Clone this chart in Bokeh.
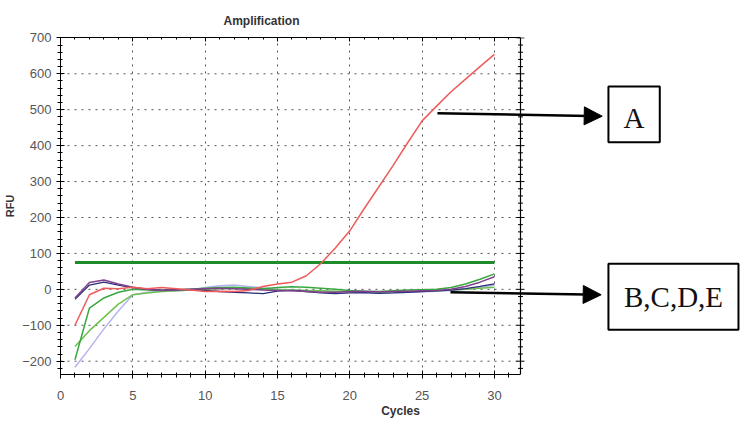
from bokeh.plotting import figure
from bokeh.models import (Label, Arrow, NormalHead, PolyAnnotation, LinearAxis, Span,
                          SingleIntervalTicker, Range1d, CustomJSTickFormatter)
from bokeh.embed import file_html
from bokeh.resources import INLINE

# ---- data -------------------------------------------------------------
cycles = list(range(1, 31))
curve_a = [-100, -15, 3, 2, 6, 2, 5, 2, -2, -6, -5, -6, -3, 8, 15, 20, 38, 72,
           115, 163, 225, 285, 345, 408, 469, 510, 550, 585, 620, 654]
curve_purple = [-24, 19, 26, 15, 6, 0, -3, -2, 0, 2, 3, 2, 0, -2, -3, -4, -6, -8,
                -8, -6, -5, -7, -6, -5, -4, -3, 0, 8, 20, 35]
curve_green = [-196, -52, -24, -8, 0, -2, -3, -2, 0, 3, 5, 6, 4, 2, 5, 7, 6, 3,
               0, -3, -5, -6, -4, -2, -1, 0, 5, 15, 28, 43]
curve_lightgreen = [-159, -115, -78, -41, -15, -10, -6, -4, -2, 0, 2, 3, 2, 0, -1,
                    -2, -3, -4, -5, -6, -7, -8, -7, -6, -5, -4, -2, 0, 3, 6]
curve_lavender = [-217, -165, -110, -60, -15, -8, -5, -4, -2, 5, 10, 12, 8, 4, 0,
                  -2, -4, -5, -6, -8, -9, -10, -9, -8, -7, -5, -3, 0, 5, 12]
curve_navy = [-28, 12, 20, 12, 5, 0, -2, -1, 0, -3, -6, -8, -10, -12, -5, -3, -6,
              -10, -12, -10, -9, -11, -10, -8, -6, -4, -2, 2, 8, 15]
threshold_x = [1, 30]
threshold_y = [75, 75]

x_ticks_interval = 5
y_ticks_interval = 100
y_major_ticks = list(range(-200, 701, 100))
y_minor_ticks = [v for v in range(-220, 701, 20) if v % 100 != 0]
y_grid_ticks = list(range(-200, 601, 100))

# chart frame extent in data units (the figure frame extends further right
# so that the annotation boxes and arrows are visible)
X_END = 31.8
Y_START, Y_END = -237, 701
PX_PER_X = 14.465

# ---- figure ------------------------------------------------------------
W, H = 740, 422
LEFT, TOP, BOTTOM = 60, 37, 48
p = figure(width=W, height=H,
           x_range=Range1d(0, (W - LEFT) / PX_PER_X), y_range=Range1d(Y_START, Y_END),
           output_backend="svg", toolbar_location=None,
           min_border_left=LEFT, min_border_right=0, min_border_top=TOP,
           min_border_bottom=BOTTOM, background_fill_color="white",
           border_fill_color="white")
p.outline_line_color = None
p.title.text = "Amplification"
p.title.align = "left"
p.title.offset = 163
p.title.standoff = 19
p.title.text_font = "Liberation Sans"
p.title.text_font_size = "12px"
p.title.text_font_style = "bold"
p.title.text_color = "#333333"

# axes
for ax in (p.xaxis[0], p.yaxis[0]):
    ax.axis_line_color = "black"
    ax.major_tick_line_color = "black"
    ax.minor_tick_line_color = "black"
    ax.major_tick_in = 4
    ax.major_tick_out = 4
    ax.minor_tick_in = 2
    ax.minor_tick_out = 3
    ax.major_label_text_font = "Liberation Sans"
    ax.major_label_text_font_size = "13px"
    ax.major_label_text_color = "#555555"
    ax.axis_label_text_font = "Liberation Sans"
    ax.axis_label_text_font_style = "bold"
    ax.axis_label_text_color = "#333333"

p.xaxis.ticker = SingleIntervalTicker(interval=x_ticks_interval, num_minor_ticks=5)
p.yaxis.ticker = SingleIntervalTicker(interval=y_ticks_interval, num_minor_ticks=5)
p.xaxis.bounds = (0, X_END)
p.xaxis.axis_label = "Cycles"
p.yaxis.axis_label = "RFU"
p.xaxis.axis_label_text_font_size = "12px"
p.yaxis.axis_label_text_font_size = "11px"
p.xaxis.major_label_standoff = 12
p.xaxis.axis_label_standoff = 1
p.yaxis.major_label_standoff = 5
p.yaxis.axis_label_standoff = 3

blank = CustomJSTickFormatter(code="return ''")
top = LinearAxis(ticker=SingleIntervalTicker(interval=x_ticks_interval, num_minor_ticks=5),
                 formatter=blank, bounds=(0, X_END), major_tick_in=4, major_tick_out=0,
                 minor_tick_in=2, minor_tick_out=0, major_label_standoff=0,
                 major_label_text_font_size="2px", axis_line_color="black")
p.add_layout(top, "above")

# grid
p.xgrid.ticker = p.xaxis[0].ticker
p.xgrid.grid_line_color = "#555555"
p.xgrid.grid_line_dash = "2 5"
p.ygrid.visible = False
p.segment(x0=0, x1=X_END, y0=y_grid_ticks, y1=y_grid_ticks,
          line_color="#555555", line_dash="2 5", line_width=1)

# right border of the chart with its ticks
p.add_layout(Span(location=X_END, dimension="height", line_color="black", line_width=1.2))
p.dash(x=[X_END] * len(y_major_ticks), y=y_major_ticks, size=8, line_color="black")
p.dash(x=[X_END] * len(y_minor_ticks), y=y_minor_ticks, size=5, line_color="black")

# curves
p.line(threshold_x, threshold_y, line_color="#1e8c2a", line_width=3)
p.line(cycles, curve_lavender, line_color="#b4b4f0", line_width=1.5)
p.line(cycles, curve_lightgreen, line_color="#6cc24c", line_width=1.5)
p.line(cycles, curve_green, line_color="#38a840", line_width=1.5)
p.line(cycles, curve_navy, line_color="#2c2c78", line_width=1.3)
p.line(cycles, curve_purple, line_color="#80408e", line_width=1.5)
p.line(cycles, curve_a, line_color="#ef5a5a", line_width=1.5)

# annotation boxes and arrows
p.add_layout(Arrow(end=NormalHead(size=18, fill_color="black", line_color="black"),
                   x_start=26.06, y_start=490.3, x_end=37.45, y_end=482.0,
                   line_color="black", line_width=2.5))
p.add_layout(Arrow(end=NormalHead(size=18, fill_color="black", line_color="black"),
                   x_start=26.96, y_start=-7.9, x_end=37.38, y_end=-15.1,
                   line_color="black", line_width=2.5))
p.add_layout(PolyAnnotation(xs=[37.88, 41.43, 41.43, 37.88], ys=[564.6, 564.6, 409.6, 409.6],
                            fill_color=None, fill_alpha=0, line_color="black",
                            line_alpha=1, line_width=2))
p.add_layout(PolyAnnotation(xs=[37.88, 46.87, 46.87, 37.88], ys=[71.2, 71.2, -112.5, -112.5],
                            fill_color=None, fill_alpha=0, line_color="black",
                            line_alpha=1, line_width=2))
p.add_layout(Label(x=39.65, y=478.3, text="A", text_font="Liberation Serif",
                   text_font_size="29px", text_color="#111111",
                   text_align="center", text_baseline="middle"))
p.add_layout(Label(x=42.38, y=-20.7, text="B,C,D,E", text_font="Liberation Serif",
                   text_font_size="29px", text_color="#111111",
                   text_align="center", text_baseline="middle"))

open("out.html", "w").write(file_html(p, INLINE))
